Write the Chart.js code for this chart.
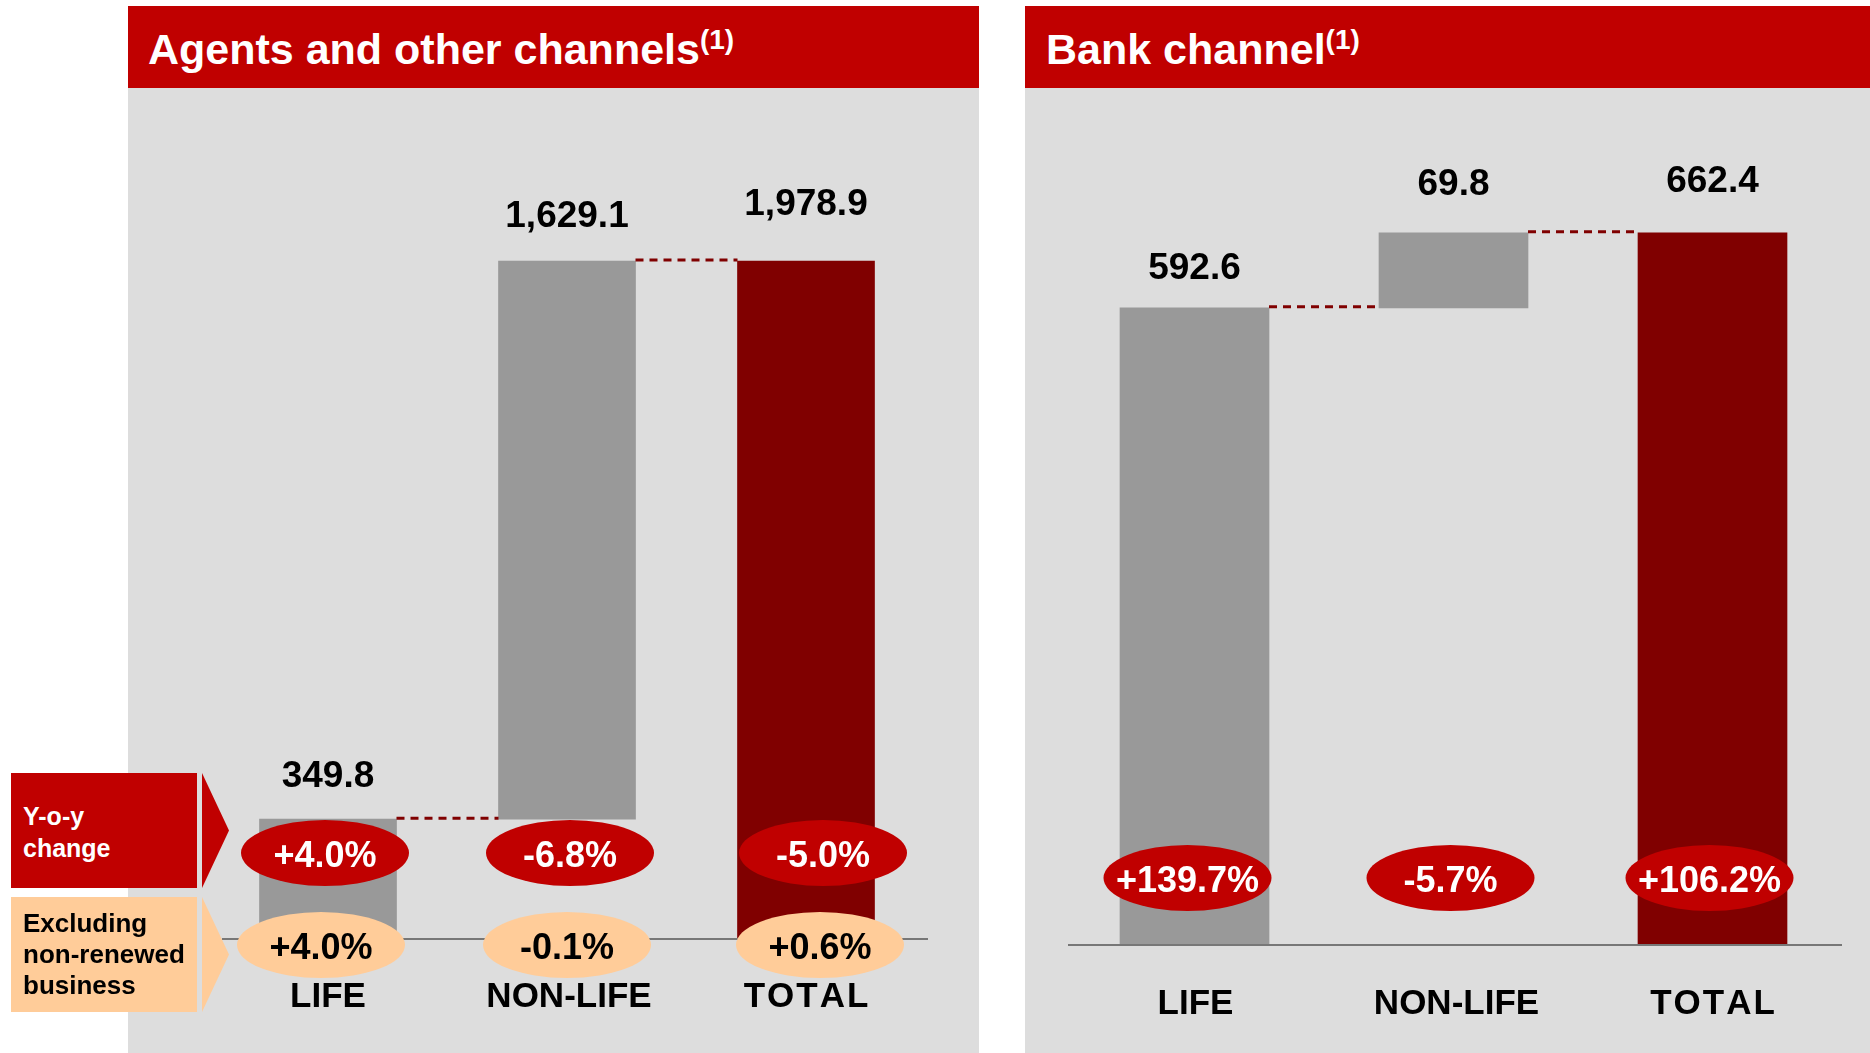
<!DOCTYPE html>
<html>
<head>
<meta charset="utf-8">
<script src="https://cdn.jsdelivr.net/npm/chart.js@4.4.1/dist/chart.umd.min.js"></script>
<style>
    html, body { margin: 0; padding: 0; background: #fff; }
    body {
        width: 1870px; height: 1053px; position: relative; overflow: hidden;
        font-family: 'Liberation Sans', Arial, sans-serif; font-weight: bold;
    }
    .panel { position: absolute; top: 88px; height: 965px; background: #dddddd; }
    .header { position: absolute; top: 6px; height: 82px; background: #c00000; }
    .title { position: absolute; top: 28px; color: #fff; font-size: 43px; line-height: 43px; white-space: nowrap; }
    .title span { font-size: 28px; line-height: 0; vertical-align: 15px; }
    canvas { position: absolute; top: 88px; }
    .box { position: absolute; left: 11px; width: 186px; height: 115px; z-index: 2; }
    .arrow { position: absolute; left: 202px; width: 27px; height: 115px; z-index: 2;
             clip-path: polygon(0 0, 100% 50%, 0 100%); }
    .boxtext { position: absolute; left: 23px; white-space: nowrap; z-index: 3; }
</style>
</head>
<body>
<div class="header" style="left:128px;width:851px"></div>
<div class="panel" style="left:128px;width:851px"></div>
<div class="title" style="left:148px">Agents and other channels<span>(1)</span></div>

<div class="header" style="left:1025px;width:845px"></div>
<div class="panel" style="left:1025px;width:845px"></div>
<div class="title" style="left:1046px">Bank channel<span>(1)</span></div>

<canvas id="agentsChart" width="851" height="965" style="left:128px"></canvas>
<canvas id="bankChart" width="845" height="965" style="left:1025px"></canvas>

<div class="box" style="top:773px;background:#c00000"></div>
<div class="arrow" style="top:773px;background:#c00000"></div>
<div class="boxtext" style="top:800px;color:#fff;font-size:25px;line-height:32px">Y-o-y<br>change</div>

<div class="box" style="top:897px;background:#ffcc99"></div>
<div class="arrow" style="top:897px;background:#ffcc99"></div>
<div class="boxtext" style="top:908px;color:#000;font-size:26px;line-height:31px">Excluding<br>non-renewed<br>business</div>

<script>
const categories = ['LIFE', 'NON-LIFE', 'TOTAL'];

const agentsValues = [349.8, 1629.1, 1978.9];
const agentsYoy = ['+4.0%', '-6.8%', '-5.0%'];
const agentsExcl = ['+4.0%', '-0.1%', '+0.6%'];

const bankValues = [592.6, 69.8, 662.4];
const bankYoy = ['+139.7%', '-5.7%', '+106.2%'];

const FONT = "'Liberation Sans', Arial, sans-serif";

// life and non-life are stacked, total starts from zero
function waterfall(values) {
    return [[0, values[0]], [values[0], values[0] + values[1]], [0, values[2]]];
}

function fmt(v) {
    return v.toLocaleString('en-US', { minimumFractionDigits: 1, maximumFractionDigits: 1 });
}

// labels, connectors, base line and the percentage bubbles
function makeDecor(cfg) {
    return {
        id: 'decor',
        afterDatasetsDraw(chart) {
            const { ctx, chartArea, scales: { x, y } } = chart;
            const bars = chart.getDatasetMeta(0).data;
            const ranges = chart.data.datasets[0].data;
            const zero = y.getPixelForValue(0);
            ctx.save();

            // dashed connectors between bars
            ctx.strokeStyle = '#800000';
            ctx.lineWidth = 3;
            ctx.setLineDash([8, 6]);
            for (let i = 0; i < bars.length - 1; i++) {
                const yy = y.getPixelForValue(ranges[i][1]) - 1;
                ctx.beginPath();
                ctx.moveTo(bars[i].x + bars[i].width / 2, yy);
                ctx.lineTo(bars[i + 1].x - bars[i + 1].width / 2, yy);
                ctx.stroke();
            }
            ctx.setLineDash([]);

            // base line
            ctx.strokeStyle = '#777';
            ctx.lineWidth = 2;
            ctx.beginPath();
            ctx.moveTo(chartArea.left + cfg.lineFrom, zero);
            ctx.lineTo(chartArea.right + cfg.lineTo, zero);
            ctx.stroke();

            // values above the bars
            ctx.fillStyle = '#000';
            ctx.textAlign = 'center';
            ctx.textBaseline = 'alphabetic';
            ctx.font = 'bold 37px ' + FONT;
            bars.forEach((b, i) => {
                ctx.fillText(fmt(cfg.values[i]), b.x, b.y - cfg.labelGap[i]);
            });

            // bubbles
            cfg.rows.forEach(row => {
                row.texts.forEach((t, i) => {
                    const cx = x.getPixelForValue(i) + row.dx[i];
                    const cy = zero + row.dy;
                    ctx.fillStyle = row.fill;
                    ctx.beginPath();
                    ctx.ellipse(cx, cy, 84, 33, 0, 0, Math.PI * 2);
                    ctx.fill();
                    ctx.fillStyle = row.color;
                    ctx.font = 'bold 36px ' + FONT;
                    ctx.fillText(t, cx, cy + 14);
                });
            });

            // category names
            ctx.fillStyle = '#000';
            ctx.font = 'bold 35px ' + FONT;
            ctx.fontKerning = 'none';
            chart.data.labels.forEach((lab, i) => {
                ctx.letterSpacing = lab === 'TOTAL' ? '2px' : '0px';
                ctx.fillText(lab, x.getPixelForValue(i) + cfg.catDx[i], zero + cfg.catDy);
            });
            ctx.restore();
        }
    };
}

function createChart(canvasId, values, max, thickness, padding, decor) {
    return new Chart(document.getElementById(canvasId), {
        type: 'bar',
        data: {
            labels: categories,
            datasets: [{
                data: waterfall(values),
                backgroundColor: ['#999999', '#999999', '#800000'],
                borderWidth: 0,
                barThickness: thickness
            }]
        },
        options: {
            responsive: false,
            animation: false,
            layout: { padding: padding },
            plugins: { legend: { display: false }, tooltip: { enabled: false } },
            scales: {
                x: { display: false },
                y: { display: false, min: 0, max: max }
            }
        },
        plugins: [makeDecor(decor)]
    });
}

createChart('agentsChart', agentsValues, 2400, 137,
    { left: 80.5, right: 53.5, top: 28.7, bottom: 114 },
    {
        values: agentsValues,
        labelGap: [32, 34, 46],
        lineFrom: 13.5, lineTo: 2.5,
        catDy: 68, catDx: [0, 2, 1],
        rows: [
            { texts: agentsYoy, fill: '#c00000', color: '#fff', dy: -86, dx: [-3, 3, 17] },
            { texts: agentsExcl, fill: '#ffcc99', color: '#000', dy: 6, dx: [-7, 0, 14] }
        ]
    });

createChart('bankChart', bankValues, 780, 149,
    { left: 40, right: 28, top: 18.3, bottom: 108 },
    {
        values: bankValues,
        labelGap: [29, 38, 41],
        lineFrom: 3, lineTo: 0,
        catDy: 69, catDx: [1, 3, 1],
        rows: [
            { texts: bankYoy, fill: '#c00000', color: '#fff', dy: -67, dx: [-7, -3, -3] }
        ]
    });
</script>
</body>
</html>
